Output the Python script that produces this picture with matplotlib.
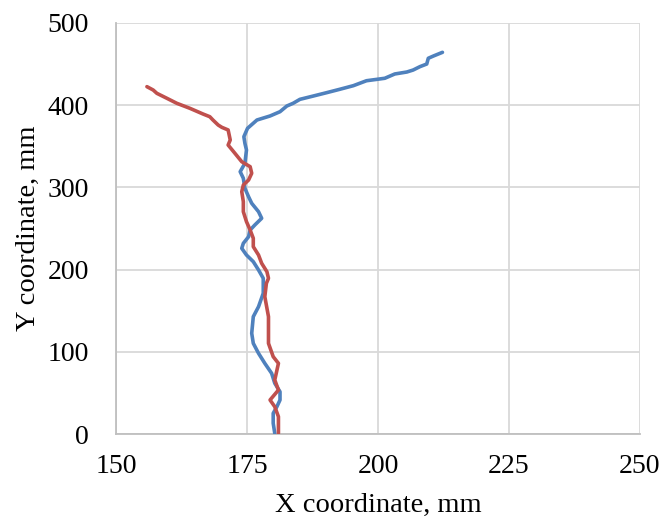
import matplotlib
matplotlib.use("Agg")
import matplotlib.pyplot as plt

# Series 1 (blue)
blue_x = [180.3, 180.0, 180.0, 180.7, 181.3, 181.3, 180.3, 179.7, 178.4, 177.2,
          176.2, 175.9, 176.2, 177.2, 178.1,
          178.1, 177.2, 176.2, 174.9, 174.0, 174.3, 175.3, 175.6, 176.5, 177.8,
          177.2, 175.9, 175.3, 174.6, 174.3, 173.7, 174.6, 174.9, 174.6, 174.4, 175.1,
          176.9, 179.4, 181.3, 182.6, 183.8, 185.1,
          187.7, 190.2, 192.7, 195.3, 197.8, 199.8, 201.3, 203.2, 205.5, 206.7,
          208.0, 209.3, 209.6, 210.6, 212.3]
blue_y = [1.2, 13.4, 25.5, 33.5, 41.7, 51.7, 62.0, 74.1, 86.2, 98.4,
          110.5, 122.7, 142.9, 155.0, 171.3,
          189.5, 199.6, 209.7, 217.8, 225.9, 232.0, 240.0, 248.2, 254.3, 262.4,
          270.4, 280.6, 288.6, 298.8, 311.0, 319.0, 329.2, 345.4, 353.5, 361.5, 371.7,
          381.8, 386.7, 391.9, 398.8, 402.1, 406.9,
          411.0, 415.0, 419.1, 423.5, 429.5, 431.2, 432.5, 437.7, 440.1, 442.5,
          446.6, 449.8, 456.8, 459.6, 464.0]

# Series 2 (red)
red_x = [181.0, 181.0, 180.3, 179.4, 181.0, 180.3, 181.0, 180.0, 179.1, 179.1,
         178.4, 178.7,
         179.1, 178.8, 177.8, 177.2, 176.2, 176.2, 175.6, 174.9, 174.3, 174.3,
         174.0, 174.3, 175.3, 175.9, 175.6, 174.0, 172.7, 171.4, 171.8, 171.4,
         170.2, 169.5, 168.5, 167.9, 166.6, 164.1, 161.6, 159.7, 157.8, 157.1, 155.9]
red_y = [1.2, 21.4, 33.5, 41.7, 53.8, 66.0, 86.2, 94.3, 110.5, 142.9,
         167.2, 183.4,
         189.5, 197.5, 207.7, 217.8, 227.9, 238.1, 248.2, 258.3, 270.4, 282.6,
         294.7, 302.8, 308.9, 317.1, 325.1, 331.1, 341.3, 351.4, 357.5, 369.7,
         372.9, 375.7, 381.8, 385.8, 389.1, 396.0, 402.1, 408.2, 414.2, 418.2, 422.3]

x_ticks = [150, 175, 200, 225, 250]
y_ticks = [0, 100, 200, 300, 400, 500]
x_label = "X coordinate, mm"
y_label = "Y coordinate, mm"

plt.rcParams['font.family'] = ['Liberation Serif', 'DejaVu Serif']

fig = plt.figure(figsize=(6.64, 5.23), dpi=100)
ax = fig.add_axes([116/664, 1-434.3/523, (640-116)/664, (434.3-22.7)/523])

ax.plot(blue_x, blue_y, color='#4f81bd', lw=2.6, solid_joinstyle='round',
        solid_capstyle='round', zorder=3)
ax.plot(red_x, red_y, color='#c0504d', lw=2.6, solid_joinstyle='round',
        solid_capstyle='round', zorder=3)

ax.set_xlim(150, 250)
ax.set_ylim(0, 500)
ax.set_xticks(x_ticks)
ax.set_yticks(y_ticks)
ax.grid(True, color='#d9d9d9', lw=1.3)
ax.set_axisbelow(True)
for s in ['top', 'right']:
    ax.spines[s].set_visible(False)
for s in ['left', 'bottom']:
    ax.spines[s].set_color('#bfbfbf')
    ax.spines[s].set_linewidth(1.3)
ax.tick_params(length=0, labelsize=20, colors='black')
ax.tick_params(axis='x', pad=14)
ax.tick_params(axis='y', pad=19.5)
ax.set_xlabel(x_label, fontsize=20.5, labelpad=10)
ax.set_ylabel(y_label, fontsize=20.5, labelpad=5)

fig.savefig('out.png', dpi=100)
